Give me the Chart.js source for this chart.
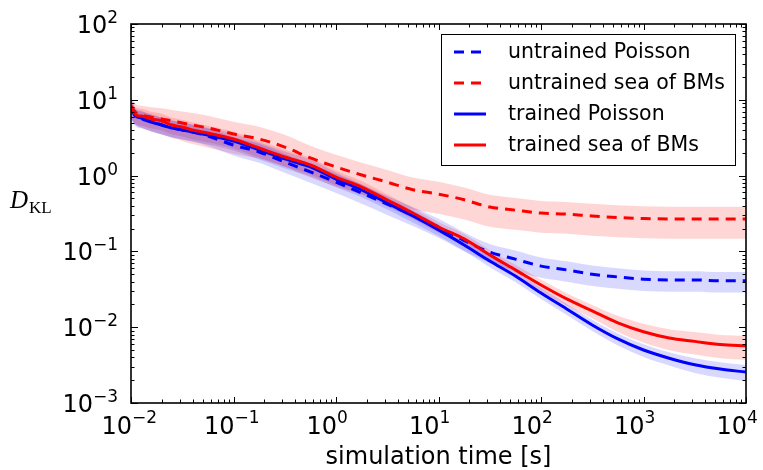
<!DOCTYPE html>
<html>
<head>
<meta charset="utf-8">
<script src="https://cdn.jsdelivr.net/npm/chart.js@4/dist/chart.umd.min.js"></script>
<style>
  html, body { margin: 0; padding: 0; background: #fff; }
  #wrap { width: 763px; height: 470px; }
</style>
</head>
<body>
<div id="wrap"><canvas id="c" width="763" height="470"></canvas></div>
<script>
// simulation time [s]
const times = [0.01, 0.0112, 0.0126, 0.0158, 0.02, 0.0251, 0.0316, 0.0398, 0.0562, 0.1,
  0.178, 0.316, 0.562, 1, 1.78, 3.16, 5.62, 10, 17.8, 31.6,
  56.2, 100, 178, 316, 562, 1000, 1780, 3160, 5620, 10000];

// mean D_KL per condition
const untrainedPoisson = [7.8, 5.9, 5.6, 5.1, 4.65, 4.25, 4.0, 3.76, 3.33, 2.53,
  2.05, 1.51, 1.12, 0.82, 0.59, 0.42, 0.30, 0.21, 0.139, 0.098,
  0.079, 0.064, 0.057, 0.050, 0.046, 0.043, 0.042, 0.042, 0.041, 0.041];
const untrainedBMs = [8.3, 6.7, 6.3, 5.9, 5.6, 5.25, 4.95, 4.65, 4.25, 3.54,
  3.04, 2.38, 1.71, 1.30, 1.02, 0.82, 0.65, 0.57, 0.48, 0.385,
  0.35, 0.32, 0.31, 0.293, 0.28, 0.272, 0.268, 0.268, 0.268, 0.268];
const trainedPoisson = [7.8, 6.1, 5.75, 5.1, 4.65, 4.25, 4.0, 3.76, 3.43, 2.86,
  2.18, 1.66, 1.30, 0.90, 0.646, 0.435, 0.293, 0.192, 0.1215, 0.0747,
  0.0474, 0.0283, 0.0174, 0.0107, 0.0070, 0.0050, 0.0039, 0.0032, 0.0028, 0.00256];
const trainedBMs = [8.0, 6.3, 6.1, 5.58, 5.25, 4.65, 4.38, 4.0, 3.65, 3.04,
  2.31, 1.76, 1.38, 0.958, 0.707, 0.477, 0.321, 0.210, 0.146, 0.090,
  0.057, 0.036, 0.0236, 0.0164, 0.0114, 0.0087, 0.0072, 0.0065, 0.0059, 0.0057];

// relative spread (fraction of the mean) of the shaded bands
const spreadUntrainedPoisson = [0.30, 0.25, 0.25, 0.25, 0.25, 0.25, 0.25, 0.25, 0.26, 0.27,
  0.28, 0.28, 0.28, 0.28, 0.28, 0.28, 0.28, 0.28, 0.28, 0.28,
  0.30, 0.30, 0.30, 0.30, 0.30, 0.30, 0.30, 0.30, 0.30, 0.30];
const spreadUntrainedBMs = [0.30, 0.30, 0.32, 0.35, 0.38, 0.40, 0.42, 0.44, 0.45, 0.45,
  0.45, 0.45, 0.45, 0.45, 0.45, 0.45, 0.45, 0.45, 0.45, 0.45,
  0.45, 0.45, 0.45, 0.45, 0.45, 0.45, 0.45, 0.45, 0.45, 0.45];
const spreadTrainedPoisson = [0.30, 0.25, 0.25, 0.25, 0.25, 0.25, 0.25, 0.25, 0.25, 0.25,
  0.25, 0.25, 0.25, 0.22, 0.20, 0.18, 0.18, 0.17, 0.17, 0.17,
  0.17, 0.17, 0.17, 0.17, 0.18, 0.19, 0.20, 0.22, 0.23, 0.24];
const spreadTrainedBMs = [0.30, 0.25, 0.25, 0.25, 0.25, 0.25, 0.25, 0.25, 0.25, 0.25,
  0.25, 0.25, 0.25, 0.22, 0.20, 0.18, 0.17, 0.16, 0.16, 0.16,
  0.17, 0.18, 0.19, 0.20, 0.24, 0.28, 0.31, 0.33, 0.34, 0.35];

// tick decades
const xTickExponents = [-2, -1, 0, 1, 2, 3, 4];
const yTickExponents = [-3, -2, -1, 0, 1, 2];

const seriesLabels = ['untrained Poisson', 'untrained sea of BMs', 'trained Poisson', 'trained sea of BMs'];

const series = [
  { label: seriesLabels[0], values: untrainedPoisson, spread: spreadUntrainedPoisson, color: '#0000ff', dashed: true,  z: 3 },
  { label: seriesLabels[1], values: untrainedBMs,     spread: spreadUntrainedBMs,     color: '#ff0000', dashed: true,  z: 2 },
  { label: seriesLabels[2], values: trainedPoisson,   spread: spreadTrainedPoisson,   color: '#0000ff', dashed: false, z: 1 },
  { label: seriesLabels[3], values: trainedBMs,       spread: spreadTrainedBMs,       color: '#ff0000', dashed: false, z: 0 }
];

const DASH = [10, 7];
const bandColor = c => c === '#ff0000' ? 'rgba(255,0,0,0.16)' : 'rgba(0,0,255,0.15)';

const datasets = [];
series.forEach(s => {
  datasets.push({
    label: s.label,
    data: times.map((t, i) => ({ x: t, y: s.values[i] })),
    borderColor: s.color,
    borderWidth: 3,
    borderDash: s.dashed ? DASH : [],
    pointRadius: 0,
    fill: false,
    cubicInterpolationMode: 'monotone',
    order: s.z
  });
});
series.forEach(s => {
  const upperIndex = datasets.length;
  datasets.push({
    label: s.label + ' upper',
    data: times.map((t, i) => ({ x: t, y: s.values[i] * (1 + s.spread[i]) })),
    borderWidth: 0,
    borderColor: 'rgba(0,0,0,0)',
    pointRadius: 0,
    fill: false,
    cubicInterpolationMode: 'monotone',
    order: 10
  });
  datasets.push({
    label: s.label + ' lower',
    data: times.map((t, i) => ({ x: t, y: s.values[i] * (1 - s.spread[i]) })),
    borderWidth: 0,
    borderColor: 'rgba(0,0,0,0)',
    backgroundColor: bandColor(s.color),
    pointRadius: 0,
    fill: upperIndex,
    cubicInterpolationMode: 'monotone',
    order: 10
  });
});

const SANS = '"DejaVu Sans", Verdana, sans-serif';

// frame, inward ticks on all sides, power-of-ten labels, axis titles, legend
const axisDecor = {
  id: 'axisDecor',
  afterDraw(chart) {
    const { ctx, chartArea: a, scales } = chart;
    const xs = scales.x, ys = scales.y;
    const MAJ = 6, MIN = 3.5;
    ctx.save();
    ctx.strokeStyle = '#000';
    ctx.lineWidth = 1;

    const tick = (x1, y1, x2, y2) => {
      ctx.beginPath(); ctx.moveTo(x1, y1); ctx.lineTo(x2, y2); ctx.stroke();
    };

    // x ticks (bottom and top)
    for (let k = xTickExponents[0]; k <= xTickExponents[xTickExponents.length - 1]; k++) {
      for (let m = 1; m <= 9; m++) {
        const v = m * Math.pow(10, k);
        if (v > xs.max * 1.0001) break;
        const px = Math.round(xs.getPixelForValue(v)) + 0.5;
        const len = m === 1 ? MAJ : MIN;
        tick(px, a.bottom, px, a.bottom - len);
        tick(px, a.top, px, a.top + len);
      }
    }
    // y ticks (left and right)
    for (let k = yTickExponents[0]; k <= yTickExponents[yTickExponents.length - 1]; k++) {
      for (let m = 1; m <= 9; m++) {
        const v = m * Math.pow(10, k);
        if (v > ys.max * 1.0001) break;
        const py = Math.round(ys.getPixelForValue(v)) + 0.5;
        const len = m === 1 ? MAJ + 1 : MIN;
        tick(a.left, py, a.left + len, py);
        tick(a.right, py, a.right - len, py);
      }
    }

    // frame
    ctx.lineWidth = 1.6;
    ctx.strokeRect(a.left, a.top, a.right - a.left, a.bottom - a.top);

    // tick labels: "10" with a raised exponent
    const BASE = '24px ' + SANS, EXP = '17px ' + SANS;
    const expText = k => (k < 0 ? '\u2212' : '') + Math.abs(k);
    ctx.fillStyle = '#000';
    ctx.textBaseline = 'alphabetic';
    ctx.textAlign = 'left';

    yTickExponents.forEach(k => {
      const py = ys.getPixelForValue(Math.pow(10, k));
      ctx.font = EXP; const ew = ctx.measureText(expText(k)).width;
      ctx.font = BASE; const bw = ctx.measureText('10').width;
      const right = a.left - 13;
      ctx.font = BASE; ctx.fillText('10', right - ew - bw, py + 9);
      ctx.font = EXP;  ctx.fillText(expText(k), right - ew, py - 1);
    });

    xTickExponents.forEach(k => {
      const px = xs.getPixelForValue(Math.pow(10, k));
      ctx.font = BASE; const bw = ctx.measureText('10').width;
      const by = a.bottom + 31;
      ctx.fillText('10', px - bw + 1, by);
      ctx.font = EXP;  ctx.fillText(expText(k), px + 1, by - 11);
    });

    // axis titles
    ctx.font = '24px ' + SANS;
    ctx.textAlign = 'center';
    ctx.fillText('simulation time [s]', (a.left + a.right) / 2, 464);

    ctx.textAlign = 'left';
    ctx.font = 'italic 25px "Liberation Serif", "DejaVu Serif", serif';
    ctx.fillText('D', 10, 208);
    const dW = ctx.measureText('D').width;
    ctx.font = '17px "Liberation Serif", "DejaVu Serif", serif';
    ctx.fillText('KL', 10 + dW + 1, 213);

    // legend
    const lx = a.right - 305, ly = a.top + 10, lw = 294, lh = 131;
    ctx.fillStyle = '#fff';
    ctx.fillRect(lx, ly, lw, lh);
    ctx.lineWidth = 1;
    ctx.strokeStyle = '#000';
    ctx.strokeRect(lx + 0.5, ly + 0.5, lw, lh);
    ctx.font = '20.5px ' + SANS;
    ctx.textBaseline = 'middle';
    series.forEach((s, i) => {
      const cy = ly + 18 + i * 31;
      ctx.strokeStyle = s.color;
      ctx.lineWidth = 3;
      ctx.setLineDash(s.dashed ? DASH : []);
      ctx.beginPath();
      ctx.moveTo(lx + 13, cy);
      ctx.lineTo(lx + 45, cy);
      ctx.stroke();
      ctx.setLineDash([]);
      ctx.fillStyle = '#000';
      ctx.fillText(s.label, lx + 67, cy + 1);
    });
    ctx.restore();
  }
};

new Chart(document.getElementById('c'), {
  type: 'line',
  data: { datasets },
  options: {
    responsive: false,
    animation: false,
    devicePixelRatio: 1,
    layout: { padding: { left: 131, top: 24, right: 17, bottom: 67 } },
    scales: {
      x: { type: 'logarithmic', min: 0.01, max: 10000, display: false },
      y: { type: 'logarithmic', min: 0.001, max: 100, display: false }
    },
    plugins: {
      legend: { display: false },
      tooltip: { enabled: false },
      filler: { propagate: false }
    },
    elements: { line: { capBezierPoints: true } }
  },
  plugins: [axisDecor]
});
</script>
</body>
</html>
